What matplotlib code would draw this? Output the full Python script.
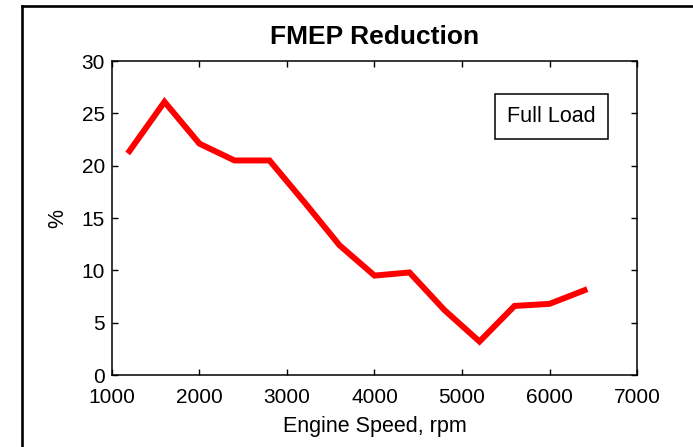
import matplotlib
matplotlib.use("Agg")
import matplotlib.pyplot as plt
from matplotlib.lines import Line2D

plt.rcParams['font.family'] = ['Liberation Sans', 'DejaVu Sans']

# engine speed, rpm
speed = [1200, 1600, 2000, 2400, 2800, 3200, 3600, 4000, 4400, 4800, 5200, 5600, 6000, 6400]
# FMEP reduction, %
fmep = [21.4, 26.1, 22.1, 20.5, 20.5, 16.5, 12.4, 9.5, 9.8, 6.2, 3.2, 6.6, 6.8, 8.1]

xticks = [1000, 2000, 3000, 4000, 5000, 6000, 7000]
yticks = [0, 5, 10, 15, 20, 25, 30]

fig = plt.figure(figsize=(6.93, 4.47), dpi=100)
ax = fig.add_axes([0.1616, 0.161, 0.7576, 0.7025])

ax.plot(speed, fmep, color='#ff0000', linewidth=4.3, solid_joinstyle='miter')

ax.set_xlim(1000, 7000)
ax.set_ylim(0, 30)
ax.set_xticks(xticks)
ax.set_yticks(yticks)
ax.tick_params(direction='in', top=True, right=True, length=4, width=1,
               labelsize=15)
ax.tick_params(axis='y', pad=5)
ax.tick_params(axis='x', pad=9.5)
for s in ax.spines.values():
    s.set_linewidth(1.1)

ax.set_title('FMEP Reduction', fontsize=19, fontweight='bold', pad=12)
ax.set_xlabel('Engine Speed, rpm', fontsize=15.5, labelpad=6.5)
ax.set_ylabel('%', fontsize=15.5, labelpad=10)

ax.text(6023, 24.7, 'Full Load', fontsize=15.5, ha='center', va='center',
        bbox=dict(boxstyle='square,pad=0.55', facecolor='white',
                  edgecolor='black', linewidth=1.1))

# outer frame (left and top edges visible)
fig.add_artist(Line2D([22 / 693, 22 / 693], [0, 1 - 6 / 447],
                      transform=fig.transFigure, color='black', linewidth=1.9))
fig.add_artist(Line2D([22 / 693, 1], [1 - 6 / 447, 1 - 6 / 447],
                      transform=fig.transFigure, color='black', linewidth=1.9))

fig.savefig('out.png', dpi=100)
